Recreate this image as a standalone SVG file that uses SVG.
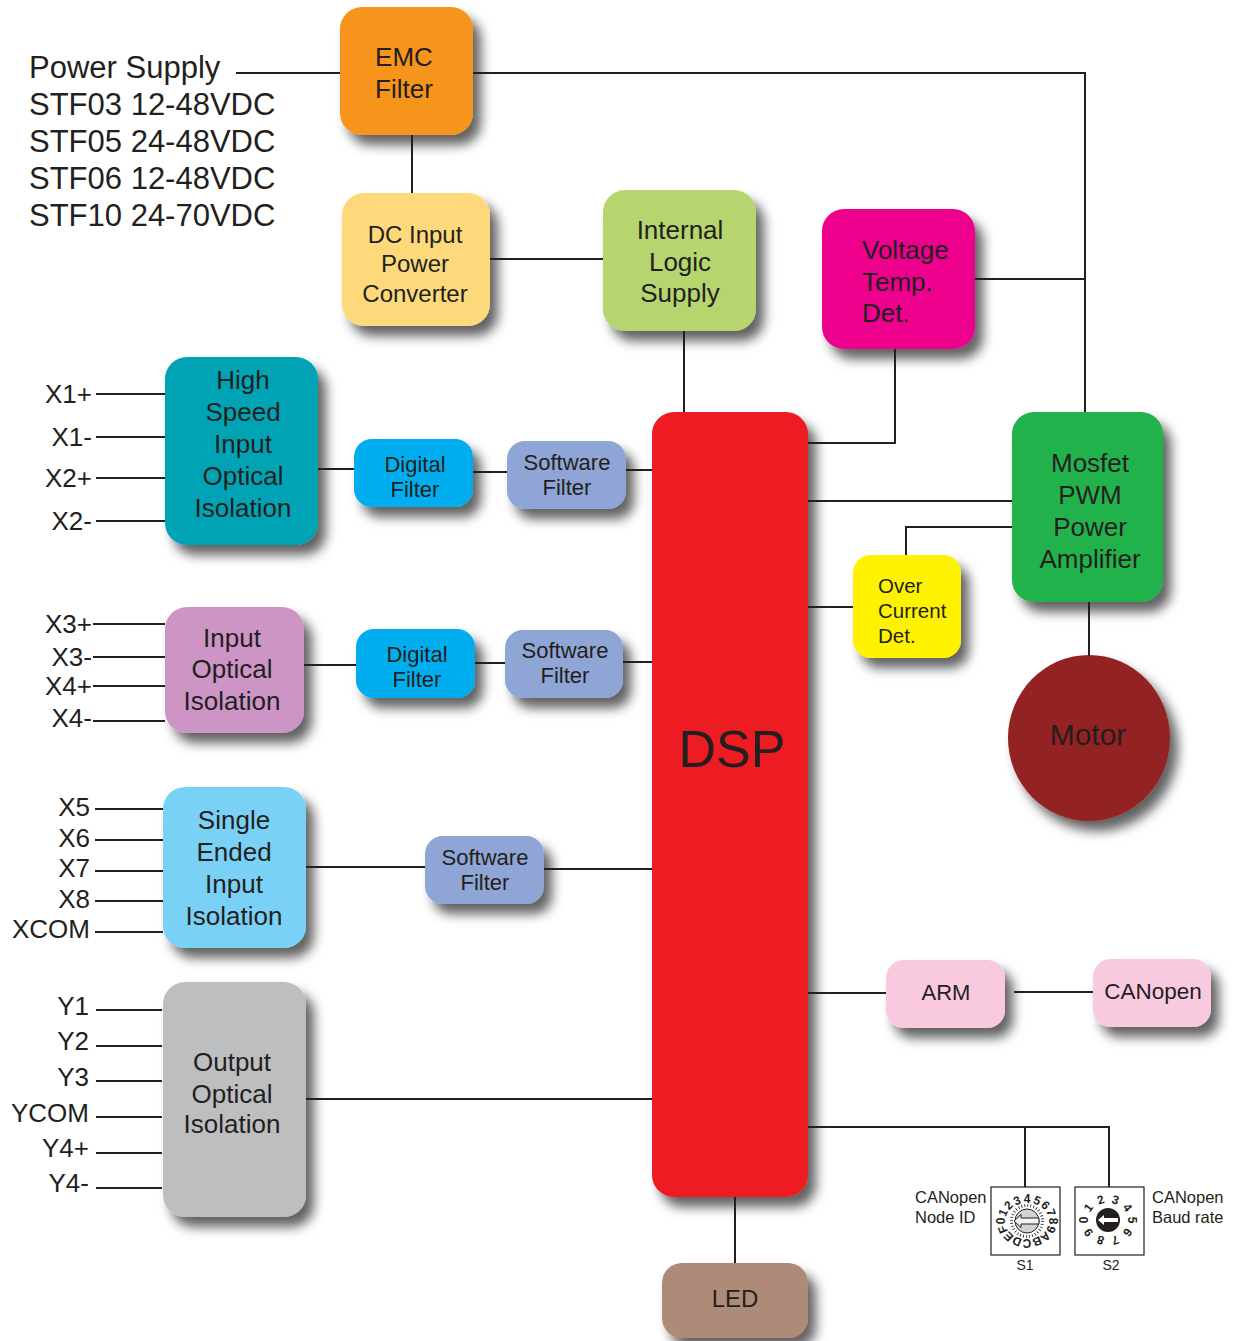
<svg xmlns="http://www.w3.org/2000/svg" width="1241" height="1341" viewBox="0 0 1241 1341">
<defs>
<filter id="sh" x="-20%" y="-20%" width="160%" height="160%">
<feDropShadow dx="8" dy="10" stdDeviation="6" flood-color="#000" flood-opacity="0.62"/>
</filter>
<style>
.ln{stroke:#231F20;stroke-width:2;fill:none}
.t{font-family:"Liberation Sans",Arial,sans-serif;fill:#231F20}
.c{text-anchor:middle}
.r{text-anchor:end}
.b{filter:url(#sh)}
.dg{font-family:"Liberation Sans",Arial,sans-serif;font-weight:bold;font-size:12px;text-anchor:middle;dominant-baseline:central;fill:#231F20}
</style>
</defs>
<rect width="1241" height="1341" fill="#fff"/>

<g id="power-supply-label" class="t" font-size="31">
<text x="29" y="78">Power Supply</text>
<text x="29" y="115">STF03 12-48VDC</text>
<text x="29" y="152">STF05 24-48VDC</text>
<text x="29" y="189">STF06 12-48VDC</text>
<text x="29" y="226">STF10 24-70VDC</text>
</g>

<g id="emc-filter">
<rect class="b" x="340" y="7" width="133" height="128" rx="22" fill="#F7941D"/>
<text class="t c" font-size="26" x="404" y="66">EMC</text>
<text class="t c" font-size="26" x="404" y="98">Filter</text>
</g>

<g id="dc-input">
<rect class="b" x="342" y="193" width="148" height="133" rx="22" fill="#FDD97B"/>
<text class="t c" font-size="24" x="415" y="243">DC Input</text>
<text class="t c" font-size="24" x="415" y="272">Power</text>
<text class="t c" font-size="24" x="415" y="302">Converter</text>
</g>

<g id="internal-logic">
<rect class="b" x="603" y="190" width="153" height="141" rx="22" fill="#B6D56E"/>
<text class="t c" font-size="26" x="680" y="239">Internal</text>
<text class="t c" font-size="26" x="680" y="271">Logic</text>
<text class="t c" font-size="26" x="680" y="302">Supply</text>
</g>

<g id="voltage-temp">
<rect class="b" x="822" y="209" width="153" height="140" rx="22" fill="#EC008C"/>
<text class="t" font-size="26" x="862" y="259">Voltage</text>
<text class="t" font-size="26" x="862" y="291">Temp.</text>
<text class="t" font-size="26" x="862" y="322">Det.</text>
</g>

<g id="mosfet">
<rect class="b" x="1012" y="412" width="151" height="190" rx="22" fill="#22B24C"/>
<text class="t c" font-size="26" x="1090" y="472">Mosfet</text>
<text class="t c" font-size="26" x="1090" y="504">PWM</text>
<text class="t c" font-size="26" x="1090" y="536">Power</text>
<text class="t c" font-size="26" x="1090" y="568">Amplifier</text>
</g>

<g id="over-current">
<rect class="b" x="853" y="555" width="108" height="103" rx="18" fill="#FFF200"/>
<text class="t" font-size="20.5" x="878" y="593">Over</text>
<text class="t" font-size="20.5" x="878" y="618">Current</text>
<text class="t" font-size="20.5" x="878" y="643">Det.</text>
</g>

<g id="motor">
<ellipse class="b" cx="1089" cy="738" rx="81" ry="83" fill="#932424"/>
<text class="t c" font-size="30" x="1088" y="745">Motor</text>
</g>

<g id="dsp">
<rect class="b" x="652" y="412" width="156" height="785" rx="22" fill="#ED1C24"/>
<text class="t c" font-size="52" x="732" y="767">DSP</text>
</g>

<g id="hs-input">
<rect class="b" x="165" y="357" width="153" height="188" rx="22" fill="#00A3B3"/>
<text class="t c" font-size="26" x="243" y="389">High</text>
<text class="t c" font-size="26" x="243" y="421">Speed</text>
<text class="t c" font-size="26" x="243" y="453">Input</text>
<text class="t c" font-size="26" x="243" y="485">Optical</text>
<text class="t c" font-size="26" x="243" y="517">Isolation</text>
</g>

<g id="digital-filter-1">
<rect class="b" x="354" y="439" width="119" height="68" rx="18" fill="#00AEEF"/>
<text class="t c" font-size="22" x="415" y="472">Digital</text>
<text class="t c" font-size="22" x="415" y="497">Filter</text>
</g>

<g id="software-filter-1">
<rect class="b" x="507" y="441" width="119" height="68" rx="18" fill="#8EA5D5"/>
<text class="t c" font-size="22" x="567" y="470">Software</text>
<text class="t c" font-size="22" x="567" y="495">Filter</text>
</g>

<g id="input-optical">
<rect class="b" x="165" y="607" width="139" height="126" rx="22" fill="#CC95C5"/>
<text class="t c" font-size="26" x="232" y="647">Input</text>
<text class="t c" font-size="26" x="232" y="678">Optical</text>
<text class="t c" font-size="26" x="232" y="710">Isolation</text>
</g>

<g id="digital-filter-2">
<rect class="b" x="356" y="629" width="119" height="69" rx="18" fill="#00AEEF"/>
<text class="t c" font-size="22" x="417" y="662">Digital</text>
<text class="t c" font-size="22" x="417" y="687">Filter</text>
</g>

<g id="software-filter-2">
<rect class="b" x="505" y="630" width="118" height="68" rx="18" fill="#8EA5D5"/>
<text class="t c" font-size="22" x="565" y="658">Software</text>
<text class="t c" font-size="22" x="565" y="683">Filter</text>
</g>

<g id="single-ended">
<rect class="b" x="163" y="787" width="143" height="161" rx="22" fill="#79D2F5"/>
<text class="t c" font-size="26" x="234" y="829">Single</text>
<text class="t c" font-size="26" x="234" y="861">Ended</text>
<text class="t c" font-size="26" x="234" y="893">Input</text>
<text class="t c" font-size="26" x="234" y="925">Isolation</text>
</g>

<g id="software-filter-3">
<rect class="b" x="425" y="836" width="119" height="68" rx="18" fill="#8EA5D5"/>
<text class="t c" font-size="22" x="485" y="865">Software</text>
<text class="t c" font-size="22" x="485" y="890">Filter</text>
</g>

<g id="output-optical">
<rect class="b" x="163" y="982" width="143" height="235" rx="22" fill="#BCBEC0"/>
<text class="t c" font-size="26" x="232" y="1071">Output</text>
<text class="t c" font-size="26" x="232" y="1103">Optical</text>
<text class="t c" font-size="26" x="232" y="1133">Isolation</text>
</g>

<g id="arm">
<rect class="b" x="886" y="960" width="119" height="68" rx="18" fill="#F9CADF"/>
<text class="t c" font-size="22" x="946" y="1000">ARM</text>
</g>

<g id="canopen">
<rect class="b" x="1093" y="959" width="118" height="68" rx="18" fill="#F9CADF"/>
<text class="t c" font-size="22.5" x="1153" y="999">CANopen</text>
</g>

<g id="led">
<rect class="b" x="662" y="1263" width="146" height="75" rx="20" fill="#AD8B78"/>
<text class="t c" font-size="24" x="735" y="1307">LED</text>
</g>

<g id="switch-s1">
<rect x="991" y="1187" width="69" height="68" fill="#fff" stroke="#231F20" stroke-width="1.2"/>
<circle cx="1027" cy="1221" r="15.5" fill="none" stroke="#231F20" stroke-width="3" stroke-dasharray="0.8 2.24"/>
<circle cx="1027" cy="1221" r="12" fill="#D1D3D4" stroke="#231F20" stroke-width="1"/>
<path d="M1014,1221 L1021,1214.5 L1021,1218 L1039,1218 L1039,1224 L1021,1224 L1021,1227.5 Z" fill="#F1F2F2" stroke="#231F20" stroke-width="1"/>
<text class="dg" transform="translate(1001,1221) rotate(-90)">0</text>
<text class="dg" transform="translate(1003,1212.6) rotate(-67.5)">1</text>
<text class="dg" transform="translate(1008.6,1205.4) rotate(-45)">2</text>
<text class="dg" transform="translate(1017,1200.7) rotate(-22.5)">3</text>
<text class="dg" transform="translate(1027,1199) rotate(0)">4</text>
<text class="dg" transform="translate(1037,1200.7) rotate(22.5)">5</text>
<text class="dg" transform="translate(1045.4,1205.4) rotate(45)">6</text>
<text class="dg" transform="translate(1051,1212.6) rotate(67.5)">7</text>
<text class="dg" transform="translate(1053,1221) rotate(90)">8</text>
<text class="dg" transform="translate(1051,1229.4) rotate(112.5)">9</text>
<text class="dg" transform="translate(1045.4,1236.6) rotate(135)">A</text>
<text class="dg" transform="translate(1037,1241.3) rotate(157.5)">B</text>
<text class="dg" transform="translate(1027,1243) rotate(180)">C</text>
<text class="dg" transform="translate(1017,1241.3) rotate(202.5)">D</text>
<text class="dg" transform="translate(1008.6,1236.6) rotate(225)">E</text>
<text class="dg" transform="translate(1003,1229.4) rotate(247.5)">F</text>
<text class="t c" font-size="14" x="1025" y="1270">S1</text>
<text class="t" font-size="16.5" x="915" y="1203">CANopen</text>
<text class="t" font-size="16.5" x="915" y="1223">Node ID</text>
</g>

<g id="switch-s2">
<rect x="1075" y="1187" width="69" height="68" fill="#fff" stroke="#231F20" stroke-width="1.2"/>
<circle cx="1108" cy="1220" r="12" fill="#231F20"/>
<path d="M1098,1220 L1104,1215 L1104,1218 L1118,1218 L1118,1222 L1104,1222 L1104,1225 Z" fill="#fff"/>
<text class="dg" font-size="13.5" transform="translate(1084,1220) rotate(-90)">0</text>
<text class="dg" font-size="13.5" transform="translate(1088.6,1207.7) rotate(-54)">1</text>
<text class="dg" font-size="13.5" transform="translate(1100.6,1200) rotate(-18)">2</text>
<text class="dg" font-size="13.5" transform="translate(1115.4,1200) rotate(18)">3</text>
<text class="dg" font-size="13.5" transform="translate(1127.4,1207.7) rotate(54)">4</text>
<text class="dg" font-size="13.5" transform="translate(1132,1220) rotate(90)">5</text>
<text class="dg" font-size="13.5" transform="translate(1127.4,1232.3) rotate(126)">6</text>
<text class="dg" font-size="13.5" transform="translate(1115.4,1240) rotate(162)">7</text>
<text class="dg" font-size="13.5" transform="translate(1100.6,1240) rotate(198)">8</text>
<text class="dg" font-size="13.5" transform="translate(1088.6,1232.3) rotate(234)">9</text>
<text class="t c" font-size="14" x="1111" y="1270">S2</text>
<text class="t" font-size="16.5" x="1152" y="1203">CANopen</text>
<text class="t" font-size="16.5" x="1152" y="1223">Baud rate</text>
</g>

<g id="pin-labels" class="t r" font-size="26">
<text x="92" y="403">X1+</text>
<text x="92" y="446">X1-</text>
<text x="92" y="487">X2+</text>
<text x="92" y="530">X2-</text>
<text x="92" y="633">X3+</text>
<text x="92" y="666">X3-</text>
<text x="92" y="695">X4+</text>
<text x="92" y="727">X4-</text>
<text x="90" y="816">X5</text>
<text x="90" y="847">X6</text>
<text x="90" y="877">X7</text>
<text x="90" y="908">X8</text>
<text x="90" y="938">XCOM</text>
<text x="89" y="1015">Y1</text>
<text x="89" y="1050">Y2</text>
<text x="89" y="1086">Y3</text>
<text x="89" y="1122">YCOM</text>
<text x="89" y="1157">Y4+</text>
<text x="89" y="1192">Y4-</text>
</g>

<g id="connectors" class="ln">
<path d="M236,73 H340"/>
<path d="M473,73 H1085 V412"/>
<path d="M412,135 V193"/>
<path d="M490,259 H603"/>
<path d="M684,331 V412"/>
<path d="M975,279 H1085"/>
<path d="M895,349 V443 H808"/>
<path d="M808,501 H1012"/>
<path d="M1012,527 H906 V555"/>
<path d="M808,607 H853"/>
<path d="M1089,602 V656"/>
<path d="M96,394 H165 M96,437 H165 M96,478 H165 M96,521 H165"/>
<path d="M318,469 H354"/>
<path d="M473,472 H507"/>
<path d="M626,470 H652"/>
<path d="M93,624 H165 M93,657 H165 M93,686 H165 M93,721 H165"/>
<path d="M304,665 H356"/>
<path d="M475,663 H505"/>
<path d="M623,662 H652"/>
<path d="M95,809 H163 M95,840 H163 M95,871 H163 M95,901 H163 M95,932 H163"/>
<path d="M306,867 H425"/>
<path d="M544,869 H652"/>
<path d="M96,1010 H162 M96,1046 H162 M96,1081 H162 M96,1117 H162 M96,1153 H162 M96,1188 H162"/>
<path d="M306,1099 H652"/>
<path d="M808,993 H886"/>
<path d="M1014,992 H1093"/>
<path d="M808,1127 H1109 V1187"/>
<path d="M1025,1127 V1187"/>
<path d="M735,1197 V1263"/>
</g>
</svg>
